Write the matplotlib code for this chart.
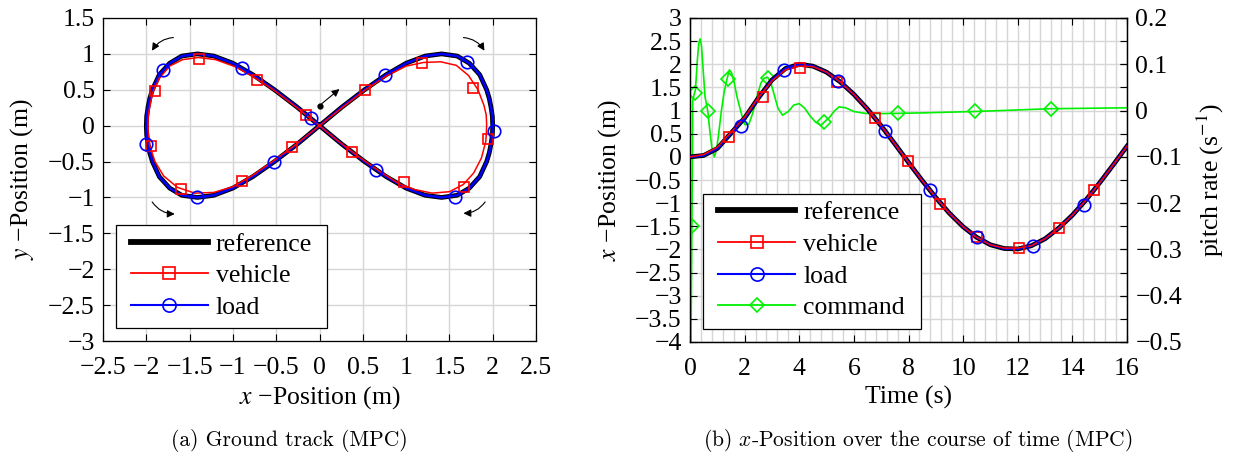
import matplotlib
matplotlib.use('Agg')
import matplotlib.pyplot as plt
from matplotlib.lines import Line2D
from matplotlib.patches import Rectangle, FancyArrowPatch
from matplotlib.ticker import MultipleLocator

plt.rcParams['font.family'] = ['Liberation Serif', 'DejaVu Serif']
plt.rcParams['mathtext.fontset'] = 'stix'
plt.rcParams['axes.unicode_minus'] = True

# ---------------- data: (a) ground track ----------------
ref_x = [0, 0.26, 0.52, 0.77, 1.00, 1.22, 1.41, 1.59, 1.73, 1.85, 1.93, 1.96, 1.98, 1.996, 2.00,
         1.996, 1.98, 1.96, 1.93, 1.85, 1.73, 1.59, 1.41, 1.22, 1.00, 0.77, 0.52, 0.26, 0,
         -0.26, -0.52, -0.77, -1.00, -1.22, -1.41, -1.59, -1.73, -1.85, -1.93, -1.96, -1.98, -1.996, -2.00,
         -1.996, -1.98, -1.96, -1.93, -1.85, -1.73, -1.59, -1.41, -1.22, -1.00, -0.77, -0.52, -0.26, 0]
ref_y = [0, 0.26, 0.50, 0.71, 0.87, 0.97, 1.00, 0.97, 0.87, 0.71, 0.50, 0.38, 0.26, 0.13, 0,
         -0.13, -0.26, -0.38, -0.50, -0.71, -0.87, -0.97, -1.00, -0.97, -0.87, -0.71, -0.50, -0.26, 0,
         0.26, 0.50, 0.71, 0.87, 0.97, 1.00, 0.97, 0.87, 0.71, 0.50, 0.38, 0.26, 0.13, 0,
         -0.13, -0.26, -0.38, -0.50, -0.71, -0.87, -0.97, -1.00, -0.97, -0.87, -0.71, -0.50, -0.26, 0]
load_x = list(ref_x)
load_y = list(ref_y)
veh_x = [0.0, 0.26, 0.52, 0.77, 1.0, 1.2, 1.4, 1.58, 1.72, 1.83, 1.9, 1.925, 1.93, 1.927, 1.92, 1.87,
         1.78, 1.66, 1.5, 1.3, 1.1, 0.92, 0.70, 0.45, 0.2, 0.0,
         -0.26, -0.52, -0.75, -0.97, -1.2, -1.40, -1.58, -1.73, -1.85, -1.93, -1.97, -1.98, -1.98,
         -1.96, -1.90, -1.80, -1.64, -1.44, -1.22, -1.0, -0.77, -0.52, -0.26, 0.0]
veh_y = [0.0, 0.25, 0.49, 0.69, 0.83, 0.88, 0.89, 0.84, 0.70, 0.50, 0.28, 0.15, 0.02, -0.10, -0.22, -0.45,
         -0.66, -0.82, -0.92, -0.94, -0.89, -0.81, -0.64, -0.43, -0.20, 0.0,
         0.25, 0.49, 0.67, 0.82, 0.92, 0.95, 0.92, 0.83, 0.66, 0.45, 0.2, 0.07, -0.05,
         -0.28, -0.5, -0.70, -0.86, -0.94, -0.93, -0.85, -0.69, -0.48, -0.25, 0.0]
veh_mark_x = [-1.39, -1.905, -0.72, -0.156, -1.95, -1.60, -0.90, -0.32, 0.38, 0.53, 0.975, 1.18, 1.67, 1.77, 1.94]
veh_mark_y = [0.93, 0.48, 0.64, 0.143, -0.28, -0.88, -0.77, -0.30, -0.36, 0.50, -0.79, 0.87, -0.86, 0.53, -0.18]
load_mark_x = [-1.81, -2.0, -1.42, -0.89, -0.53, -0.10, 0.65, 0.76, 1.57, 1.70, 2.02]
load_mark_y = [0.78, -0.25, -1.0, 0.81, -0.51, 0.11, -0.62, 0.70, -0.99, 0.89, -0.08]

# ---------------- data: (b) x-position over time ----------------
t = [0, 0.5, 1, 1.5, 2, 2.5, 3, 3.5, 4, 4.5, 5, 5.5, 6, 6.5, 7, 7.5, 8, 8.5, 9, 9.5,
     10, 10.5, 11, 11.5, 12, 12.5, 13, 13.5, 14, 14.5, 15, 15.5, 16]
ref_t = [0.00, 0.03, 0.18, 0.51, 0.84, 1.27, 1.66, 1.91, 2.00, 1.96, 1.83, 1.62, 1.35, 1.03,
         0.67, 0.28, -0.12, -0.51, -0.88, -1.22, -1.51, -1.74, -1.90, -1.98, -1.99, -1.92,
         -1.77, -1.54, -1.26, -0.93, -0.56, -0.17, 0.23]
load_t = list(ref_t)
veh_t = [0.00, 0.05, 0.21, 0.53, 0.86, 1.28, 1.64, 1.88, 1.96, 1.95, 1.83, 1.62, 1.35, 1.03,
         0.67, 0.28, -0.12, -0.51, -0.88, -1.22, -1.51, -1.74, -1.90, -1.97, -1.97, -1.92,
         -1.77, -1.54, -1.26, -0.93, -0.56, -0.17, 0.23]
veh_mark_t = [1.42, 2.66, 4.01, 5.40, 6.78, 7.97, 9.16, 10.52, 12.06, 13.52, 14.8]
veh_mark_v = [0.43, 1.29, 1.92, 1.62, 0.84, -0.09, -1.01, -1.74, -1.96, -1.54, -0.71]
load_mark_t = [1.87, 3.45, 5.42, 7.15, 8.77, 10.5, 12.55, 14.41]
load_mark_v = [0.66, 1.88, 1.64, 0.56, -0.71, -1.73, -1.92, -1.03]

cmd_t = [0.03, 0.07, 0.10, 0.15, 0.20, 0.27, 0.32, 0.37, 0.42, 0.48, 0.55, 0.65, 0.72, 0.80,
         0.89, 0.97, 1.05, 1.15, 1.25, 1.35, 1.44, 1.52, 1.62, 1.72, 1.85, 2.00, 2.15, 2.30,
         2.45, 2.60, 2.72, 2.84, 2.95, 3.08, 3.22, 3.39, 3.60, 3.80, 4.00, 4.20, 4.40, 4.60,
         4.80, 4.91, 5.10, 5.30, 5.46, 5.70, 6.00, 6.40, 7.00, 7.63, 8.50, 10.44, 13.21, 16.0]
cmd_r = [-0.55, -0.25, 0.02, 0.035, 0.045, 0.11, 0.145, 0.155, 0.14, 0.09, 0.03, -0.001, -0.04, -0.08,
         -0.10, -0.085, -0.05, 0.0, 0.04, 0.067, 0.088, 0.082, 0.06, 0.03, 0.0, -0.03, -0.03, -0.005,
         0.03, 0.06, 0.07, 0.072, 0.062, 0.035, 0.005, -0.01, -0.002, 0.012, 0.015, 0.005, -0.012, -0.025,
         -0.032, -0.025, -0.015, 0.0, 0.008, 0.006, -0.002, -0.006, -0.0065, -0.006, -0.005, -0.002, 0.004, 0.006]
cmd_mark_t = [0.06, 0.195, 0.646, 1.38, 2.84, 4.91, 7.63, 10.44, 13.21]
cmd_mark_r = [-0.25, 0.039, -0.001, 0.068, 0.071, -0.024, -0.006, -0.002, 0.004]

# ---------------- ticks / labels ----------------
M = '\u2212'
xt_a = [-2.5, -2, -1.5, -1, -0.5, 0, 0.5, 1, 1.5, 2, 2.5]
xt_a_lab = [M + '2.5', M + '2', M + '1.5', M + '1', M + '0.5', '0', '0.5', '1', '1.5', '2', '2.5']
yt_a = [-3, -2.5, -2, -1.5, -1, -0.5, 0, 0.5, 1, 1.5]
yt_a_lab = [M + '3', M + '2.5', M + '2', M + '1.5', M + '1', M + '0.5', '0', '0.5', '1', '1.5']
xt_b = [0, 2, 4, 6, 8, 10, 12, 14, 16]
xt_b_lab = ['0', '2', '4', '6', '8', '10', '12', '14', '16']
yt_b = [-4, -3.5, -3, -2.5, -2, -1.5, -1, -0.5, 0, 0.5, 1, 1.5, 2, 2.5, 3]
yt_b_lab = [M + '4', M + '3.5', M + '3', M + '2.5', M + '2', M + '1.5', M + '1', M + '0.5',
            '0', '0.5', '1', '1.5', '2', '2.5', '3']
yt_r = [-0.5, -0.4, -0.3, -0.2, -0.1, 0, 0.1, 0.2]
yt_r_lab = [M + '0.5', M + '0.4', M + '0.3', M + '0.2', M + '0.1', '0', '0.1', '0.2']
legend_labels = ['reference', 'vehicle', 'load', 'command']

RED = '#ff0000'
BLUE = '#0000ff'
GREEN = '#00f000'
GRID = '#d6d6d6'
FS = 18.5

fig = plt.figure(figsize=(12.38, 4.59), dpi=100)
W, H = 1238.0, 459.0
axA = fig.add_axes([103 / W, 1 - 341 / H, 433 / W, 323 / H])
axB = fig.add_axes([690 / W, 1 - 342 / H, 437 / W, 324 / H])
axR = axB.twinx()


def style_axis(ax):
    for s in ax.spines.values():
        s.set_linewidth(0.9)
    ax.tick_params(which='major', direction='in', length=5, width=0.8, labelsize=FS)
    ax.tick_params(axis='x', pad=11.5)
    ax.tick_params(axis='y', pad=6)


# ---------------- (a) ----------------
axA.plot(ref_x, ref_y, color='k', lw=3.4, solid_joinstyle='round', zorder=3)
axA.plot(load_x, load_y, color=BLUE, lw=1.8, solid_joinstyle='round', zorder=4)
axA.plot(veh_x, veh_y, color=RED, lw=1.1, solid_joinstyle='round', zorder=5)
axA.plot(veh_mark_x, veh_mark_y, ls='none', marker='s', ms=7.5, mfc='none', mec=RED, mew=1.2, zorder=6)
axA.plot(load_mark_x, load_mark_y, ls='none', marker='o', ms=9, mfc='none', mec=BLUE, mew=1.2, zorder=7)
axA.set_xlim(-2.5, 2.5)
axA.set_ylim(-3, 1.5)
axA.set_xticks(xt_a)
axA.set_xticklabels(xt_a_lab)
axA.set_yticks(yt_a)
axA.set_yticklabels(yt_a_lab)
axA.grid(True, color=GRID, lw=1.0)
axA.set_axisbelow(True)
style_axis(axA)
axA.tick_params(top=True, right=True)
axA.set_xlabel('$x$ \u2212Position (m)', fontsize=FS, labelpad=4)
axA.set_ylabel('$y$ \u2212Position (m)', fontsize=FS, labelpad=8.5)

arrow_kw = dict(arrowstyle='-|>', mutation_scale=11, lw=0.8, color='k', zorder=8)
for (p0, p1, rad) in [((-1.655, 1.23), (-1.95, 1.01), 0.3),
                      ((1.63, 1.23), (1.92, 1.01), -0.3),
                      ((-1.95, -1.03), (-1.64, -1.23), 0.3),
                      ((1.93, -1.03), (1.63, -1.22), -0.3)]:
    axA.add_patch(FancyArrowPatch(p0, p1, connectionstyle='arc3,rad=%g' % rad, **arrow_kw))
axA.add_patch(FancyArrowPatch((0.0, 0.28), (0.255, 0.535), **arrow_kw))
axA.plot([0.0], [0.28], 'o', color='k', ms=3.5, zorder=8)

h_ref = Line2D([], [], color='k', lw=4.2)
h_veh = Line2D([], [], color=RED, lw=1.3, marker='s', ms=8, mfc='none', mec=RED, mew=1.2)
h_load = Line2D([], [], color=BLUE, lw=1.5, marker='o', ms=9.5, mfc='none', mec=BLUE, mew=1.2)
h_cmd = Line2D([], [], color=GREEN, lw=1.3, marker='D', ms=7, mfc='none', mec=GREEN, mew=1.2)

leg_kw = dict(loc='upper left', frameon=False, borderpad=0, borderaxespad=0, handlelength=3.0,
              handletextpad=0.31, labelspacing=0.335, fontsize=FS, numpoints=1)

axA.add_patch(Rectangle((13 / 433, 13 / 323), 211 / 433, 102.7 / 323, transform=axA.transAxes,
                        facecolor='white', edgecolor='k', lw=0.9, zorder=9))
legA = axA.legend([h_ref, h_veh, h_load], legend_labels[:3],
                  bbox_to_anchor=((130.7 - 103) / 433, (341 - 232.7) / 323), **leg_kw)
legA.set_zorder(10)

# ---------------- (b) ----------------
axR.set_zorder(1)
axB.set_zorder(2)
axB.patch.set_visible(False)
axR.patch.set_visible(False)

axB.plot(t, ref_t, color='k', lw=3.4, solid_joinstyle='round', zorder=3)
axB.plot(t, load_t, color=BLUE, lw=1.8, zorder=4)
axB.plot(t, veh_t, color=RED, lw=1.1, zorder=5)
axB.plot(veh_mark_t, veh_mark_v, ls='none', marker='s', ms=7.5, mfc='none', mec=RED, mew=1.2, zorder=6)
axB.plot(load_mark_t, load_mark_v, ls='none', marker='o', ms=9, mfc='none', mec=BLUE, mew=1.2, zorder=7)
axB.set_xlim(0, 16)
axB.set_ylim(-4, 3)
axB.set_xticks(xt_b)
axB.set_xticklabels(xt_b_lab)
axB.set_yticks(yt_b)
axB.set_yticklabels(yt_b_lab)
axB.xaxis.set_minor_locator(MultipleLocator(0.4))
style_axis(axB)
axB.tick_params(top=True, right=True)
axB.tick_params(which='minor', length=0)
axB.set_xlabel('Time (s)', fontsize=FS, labelpad=4)
axB.set_ylabel('$x$ \u2212Position (m)', fontsize=FS, labelpad=9)

axR.plot(cmd_t, cmd_r, color=GREEN, lw=1.2, zorder=3)
axR.plot(cmd_mark_t, cmd_mark_r, ls='none', marker='D', ms=7, mfc='none', mec=GREEN, mew=1.2, zorder=4)
axR.set_ylim(-0.5, 0.2)
axR.set_yticks(yt_r)
axR.set_yticklabels(yt_r_lab)
axR.yaxis.set_minor_locator(MultipleLocator(0.05))
style_axis(axR)
axR.tick_params(axis='y', which='minor', length=0)
axR.xaxis.set_visible(True)
axR.tick_params(axis='x', which='both', bottom=False, top=False, labelbottom=False, labeltop=False)
axR.grid(True, which='both', color=GRID, lw=1.0)
axR.set_axisbelow(True)
axR.set_ylabel('pitch rate (s$^{-1}$)', fontsize=FS, labelpad=9)

axB.add_patch(Rectangle((13.3 / 437, 12.7 / 324), 217.4 / 437, 135 / 324, transform=axB.transAxes,
                        facecolor='white', edgecolor='k', lw=0.9, zorder=9))
legB = axB.legend([h_ref, h_veh, h_load, h_cmd], legend_labels,
                  bbox_to_anchor=((718 - 690) / 437, (342 - 201.5) / 324), **leg_kw)
legB.set_zorder(10)

# ---------------- captions ----------------
fig.text(289 / W, 1 - 441 / H, '(a) Ground track (MPC)', ha='center', va='center',
         family='cmr10', fontsize=15.5)
fig.text(918 / W, 1 - 441 / H, '(b) $x$-Position over the course of time (MPC)', ha='center',
         va='center', family='cmr10', math_fontfamily='cm', fontsize=15.5)

fig.savefig('out.png', dpi=100, facecolor='white')
